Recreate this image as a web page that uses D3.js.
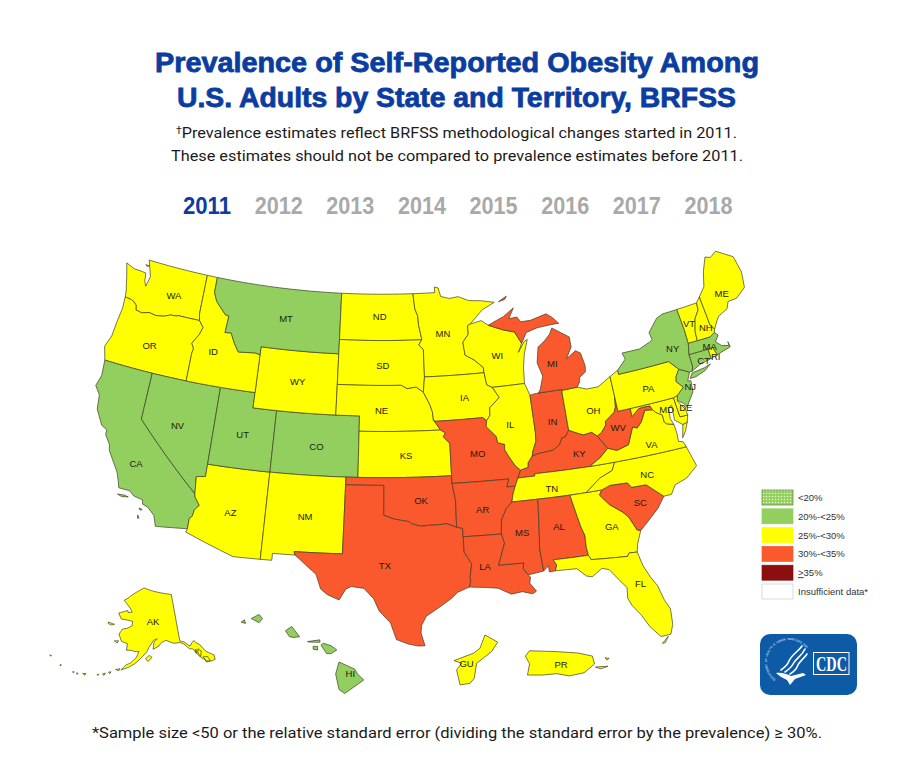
<!DOCTYPE html>
<html>
<head>
<meta charset="utf-8">
<script src="https://cdn.jsdelivr.net/npm/d3@7"></script>
<style>
  body { margin: 0; background: #fff; }
  svg { display: block; }
</style>
</head>
<body>
<svg id="chart" width="913" height="768"></svg>
<script>
// categories and year tabs
var yearLabels = ["2011", "2012", "2013", "2014", "2015", "2016", "2017", "2018"];
var binLabels = ["<20%", "20%-<25%", "25%-<30%", "30%-<35%", "35%", "Insufficient data*"];
var binColors = ["#c5e29a", "#92cf5f", "#ffff00", "#f9592c", "#8b0f0f", "#ffffff"];

// state values for 2011
var bin20to25 = ["MT", "CA", "NV", "UT", "CO", "NY", "NJ", "CT", "MA", "HI"];
var bin25to30 = ["WA", "OR", "ID", "WY", "ND", "SD", "NE", "KS", "MN", "WI", "IA", "IL", "OH", "PA", "AZ", "NM",
  "VT", "NH", "ME", "RI", "DE", "MD", "VA", "NC", "GA", "FL", "TN", "AK", "GU", "PR"];
var bin30to35 = ["MI", "IN", "KY", "WV", "MO", "OK", "AR", "TX", "LA", "MS", "AL", "SC"];

// outlines, lon/lat
var WA = [[[-124.73,48.38],[-123.9,48.17],[-123.1,48.15],[-122.75,48.12],[-122.65,47.6],[-122.45,47.3],[-122.35,47.6],[-122.25,48.0],[-122.5,48.5],[-122.76,49],[-117.03,49],[-117.04,46.42],[-116.92,46],[-118.98,46],[-119,45.95],[-119.6,45.92],[-120.2,45.73],[-120.9,45.65],[-121.5,45.72],[-122.2,45.57],[-122.75,45.65],[-122.85,45.95],[-123.2,46.15],[-123.4,46.2],[-124,46.25],[-124.08,46.7],[-124.2,47],[-124.4,47.6]],
  [[-122.75,48.55],[-122.6,48.65],[-122.95,48.65]]];
var OR = [[[-124,46.25],[-123.95,45.5],[-124.1,44.6],[-124.2,43.6],[-124.55,42.84],[-124.2,42],[-117.03,42],[-117.03,43.83],[-116.95,44.1],[-117.03,44.25],[-117.2,44.45],[-116.7,45.1],[-116.48,45.6],[-116.92,46],[-118.98,46],[-119,45.95],[-119.6,45.92],[-120.2,45.73],[-120.9,45.65],[-121.5,45.72],[-122.2,45.57],[-122.75,45.65],[-122.85,45.95],[-123.2,46.15],[-123.4,46.2]]];
var CA = [[[-124.2,42],[-120,42],[-120,39],[-114.63,35],[-114.57,34.8],[-114.14,34.3],[-114.45,34],[-114.53,33.55],[-114.72,33.4],[-114.72,32.72],[-117.12,32.53],[-117.25,32.85],[-117.4,33.2],[-118,33.65],[-118.4,33.75],[-118.5,34.03],[-119.2,34.15],[-119.6,34.42],[-120.47,34.45],[-120.65,34.9],[-120.9,35.4],[-121.9,36.6],[-122,36.95],[-122.5,37.5],[-122.5,37.8],[-123,38],[-123.7,38.9],[-123.85,39.8],[-124.35,40.3],[-124.1,41]],
  [[-120.45,34.05],[-119.9,34.08],[-119.6,34.02],[-120.1,33.95]],
  [[-118.6,33.48],[-118.35,33.42],[-118.5,33.35]],
  [[-118.6,33.03],[-118.45,32.85],[-118.55,32.82]]];
var NV = [[[-120,42],[-114.04,42],[-114.04,36.2],[-114.75,36.1],[-114.63,35],[-120,39]]];
var AZ = [[[-114.04,37],[-109.05,37],[-109.05,31.33],[-111.07,31.33],[-114.81,32.5],[-114.72,32.72],[-114.72,33.4],[-114.53,33.55],[-114.45,34],[-114.14,34.3],[-114.57,34.8],[-114.63,35],[-114.75,36.1],[-114.04,36.2]]];
var UT = [[[-114.04,42],[-111.05,42],[-111.05,41],[-109.05,41],[-109.05,37],[-114.04,37]]];
var CO = [[[-109.05,41],[-102.05,41],[-102.05,37],[-109.05,37]]];
var NM = [[[-109.05,37],[-103,37],[-103.04,32],[-106.62,32],[-106.53,31.78],[-108.2,31.78],[-108.2,31.33],[-109.05,31.33]]];
var WY = [[[-111.05,45],[-104.05,45],[-104.05,41],[-111.05,41]]];
var ID = [[[-117.03,49],[-116.05,49],[-116.05,48],[-115.7,47.45],[-114.7,46.7],[-114.35,46.65],[-114.45,45.55],[-113.9,45.6],[-113.45,44.95],[-113,44.45],[-111.5,44.55],[-111.05,44.48],[-111.05,42],[-117.03,42],[-117.03,43.83],[-116.95,44.1],[-117.03,44.25],[-117.2,44.45],[-116.7,45.1],[-116.48,45.6],[-116.92,46],[-117.04,46.42]]];
var MT = [[[-116.05,49],[-104.05,49],[-104.05,45],[-111.05,45],[-111.05,44.48],[-111.5,44.55],[-113,44.45],[-113.45,44.95],[-113.9,45.6],[-114.45,45.55],[-114.35,46.65],[-114.7,46.7],[-115.7,47.45],[-116.05,48]]];
var ND = [[[-104.05,49],[-97.23,49],[-97.1,48],[-96.85,47.5],[-96.8,46.9],[-96.56,46],[-96.56,45.94],[-104.05,45.94]]];
var SD = [[[-104.05,45.94],[-96.56,45.94],[-96.85,45.6],[-96.45,45.3],[-96.45,43.5],[-96.6,42.5],[-97.2,42.85],[-98,42.77],[-98.5,43],[-104.05,43]]];
var NE = [[[-104.05,43],[-98.5,43],[-98,42.77],[-97.2,42.85],[-96.6,42.5],[-96.1,41.7],[-95.9,41.2],[-95.85,40.7],[-95.3,40],[-102.05,40],[-102.05,41],[-104.05,41]]];
var KS = [[[-102.05,40],[-95.3,40],[-94.9,39.8],[-95.1,39.55],[-94.6,39.1],[-94.62,37],[-102.05,37]]];
var OK = [[[-103,37],[-94.62,37],[-94.62,36.5],[-94.43,35.4],[-94.48,33.64],[-95.2,33.9],[-96,33.85],[-96.6,33.85],[-97.2,33.8],[-97.9,34],[-98.1,34.13],[-99.2,34.3],[-100,34.56],[-100,36.5],[-103,36.5]]];
var TX = [[[-103,36.5],[-100,36.5],[-100,34.56],[-99.2,34.3],[-98.1,34.13],[-97.9,34],[-97.2,33.8],[-96.6,33.85],[-96,33.85],[-95.2,33.9],[-94.48,33.64],[-94.04,33.55],[-94.04,31.99],[-93.55,31.2],[-93.75,30.3],[-93.7,30.1],[-93.85,29.7],[-94.7,29.4],[-95.2,29],[-96,28.5],[-97,27.9],[-97.35,27.3],[-97.4,26.8],[-97.15,25.96],[-97.6,25.95],[-98.3,26.1],[-99.1,26.4],[-99.5,27.5],[-100.3,28.3],[-100.7,29.1],[-101.4,29.77],[-102.3,29.88],[-102.7,29.7],[-103.15,28.98],[-104,29.3],[-104.5,29.65],[-104.9,30.6],[-106,31.4],[-106.53,31.78],[-106.62,32],[-103.04,32]]];
var MN = [[[-97.23,49],[-95.15,49],[-95.15,49.38],[-94.8,49.3],[-94.6,48.72],[-93.8,48.55],[-92.95,48.62],[-92,48.3],[-90.8,48.2],[-89.6,48],[-90.8,47.6],[-92.05,46.75],[-92.3,46.65],[-92.3,46.1],[-92.85,45.6],[-92.75,44.75],[-92,44.4],[-91.25,43.85],[-91.22,43.5],[-96.45,43.5],[-96.45,45.3],[-96.85,45.6],[-96.56,45.94],[-96.56,46],[-96.8,46.9],[-96.85,47.5],[-97.1,48]]];
var IA = [[[-96.45,43.5],[-91.22,43.5],[-91.1,42.7],[-90.65,42.5],[-90.15,41.8],[-91.05,41.2],[-91.1,40.7],[-91.42,40.38],[-91.73,40.61],[-95.77,40.58],[-95.85,40.7],[-95.9,41.2],[-96.1,41.7],[-96.6,42.5]]];
var MO = [[[-95.77,40.58],[-91.73,40.61],[-91.42,40.38],[-91.5,40],[-90.75,39.3],[-90.7,38.9],[-90.15,38.75],[-90.2,38.4],[-89.9,37.9],[-89.5,37.3],[-89.13,36.98],[-89.42,36.5],[-89.7,36],[-90.37,36],[-90.15,36.5],[-94.62,36.5],[-94.62,37],[-94.6,39.1],[-95.1,39.55],[-94.9,39.8],[-95.3,40],[-95.85,40.7]]];
var AR = [[[-94.62,36.5],[-90.15,36.5],[-90.37,36],[-89.7,36],[-89.95,35.5],[-90.1,35],[-90.6,34.6],[-91.05,33.9],[-91.17,33],[-94.04,33],[-94.04,33.55],[-94.48,33.64],[-94.43,35.4]]];
var LA = [[[-94.04,33],[-91.17,33],[-91,32.4],[-91.6,31],[-89.75,31],[-89.85,30.65],[-89.55,30.2],[-89.4,30.05],[-89.5,29.65],[-89.1,29.1],[-89.4,28.95],[-90.1,29.15],[-90.9,29.05],[-91.8,29.5],[-92.6,29.6],[-93.85,29.7],[-93.7,30.1],[-93.75,30.3],[-93.55,31.2],[-94.04,31.99]]];
var WI = [[[-92.3,46.65],[-92.05,46.75],[-91,46.9],[-90.4,46.55],[-89.1,46.13],[-88.1,45.9],[-87.6,45.1],[-88,44.55],[-87.35,45.2],[-87.05,45.3],[-87.5,44.4],[-87.75,43.5],[-87.85,42.5],[-90.65,42.5],[-91.1,42.7],[-91.22,43.5],[-91.25,43.85],[-92,44.4],[-92.75,44.75],[-92.85,45.6],[-92.3,46.1]]];
var IL = [[[-90.65,42.5],[-87.85,42.5],[-87.53,41.7],[-87.53,39.3],[-87.6,38.7],[-87.95,38.1],[-88.05,37.8],[-88.45,37.4],[-88.5,37.1],[-89.13,36.98],[-89.5,37.3],[-89.9,37.9],[-90.2,38.4],[-90.15,38.75],[-90.7,38.9],[-90.75,39.3],[-91.5,40],[-91.42,40.38],[-91.1,40.7],[-91.05,41.2],[-90.15,41.8]]];
var IN = [[[-87.53,41.7],[-87.2,41.75],[-86.82,41.76],[-84.8,41.76],[-84.81,39.1],[-85.2,38.7],[-85.45,38.7],[-85.75,38.27],[-86.3,38],[-86.85,37.95],[-87.6,37.9],[-88.05,37.8],[-87.95,38.1],[-87.6,38.7],[-87.53,39.3]]];
var OH = [[[-84.8,41.7],[-83.45,41.73],[-82.7,41.5],[-81.7,41.5],[-80.52,41.98],[-80.52,40.64],[-80.65,40],[-80.85,39.7],[-81.7,39.25],[-81.75,39],[-82.2,38.6],[-82.6,38.42],[-83,38.72],[-83.7,38.65],[-84.23,38.85],[-84.81,39.1]]];
var KY = [[[-84.81,39.1],[-84.23,38.85],[-83.7,38.65],[-83,38.72],[-82.6,38.42],[-82,37.55],[-82.7,37.05],[-83.67,36.6],[-88.07,36.65],[-88.07,36.5],[-89.42,36.5],[-89.13,36.98],[-88.5,37.1],[-88.45,37.4],[-88.05,37.8],[-87.6,37.9],[-86.85,37.95],[-86.3,38],[-85.75,38.27],[-85.45,38.7],[-85.2,38.7]]];
var TN = [[[-89.42,36.5],[-88.07,36.5],[-88.07,36.65],[-83.67,36.6],[-81.68,36.59],[-82,36.1],[-83.1,35.75],[-84.32,34.99],[-90.1,35],[-89.95,35.5],[-89.7,36]]];
var MS = [[[-90.1,35],[-88.2,35],[-88.1,34.9],[-88.4,32.3],[-88.47,31.9],[-88.4,30.35],[-89.55,30.2],[-89.85,30.65],[-89.75,31],[-91.6,31],[-91,32.4],[-91.17,33],[-91.05,33.9],[-90.6,34.6]]];
var AL = [[[-88.2,35],[-85.6,34.98],[-85.18,32.87],[-85,32.3],[-85.05,31.55],[-85,31],[-87.6,31],[-87.4,30.65],[-87.55,30.28],[-88,30.25],[-88,30.65],[-88.4,30.35],[-88.47,31.9],[-88.4,32.3],[-88.1,34.9]]];
var GA = [[[-85.6,34.98],[-83.1,35],[-83.35,34.7],[-82.75,34],[-81.9,33.4],[-81.5,33],[-81.1,32.1],[-80.85,32.03],[-81.3,31.2],[-81.45,30.72],[-82.05,30.75],[-82.2,30.55],[-84.86,30.7],[-85,31],[-85.05,31.55],[-85,32.3],[-85.18,32.87]]];
var FL = [[[-87.6,31],[-85,31],[-84.86,30.7],[-82.2,30.55],[-82.05,30.75],[-81.45,30.72],[-81.25,29.8],[-80.9,29],[-80.55,28.4],[-80.3,27.4],[-80.03,26.8],[-80.12,25.8],[-80.4,25.2],[-81.1,25.15],[-81.7,25.9],[-82.1,26.7],[-82.6,27.4],[-82.8,27.9],[-82.7,28.6],[-83.1,29.1],[-83.7,29.9],[-84.2,30.05],[-85,29.6],[-85.4,29.7],[-86,30.25],[-87.55,30.28],[-87.4,30.65]],
  [[-80.6,25.1],[-81.1,24.7],[-80.9,24.72]]];
var SC = [[[-83.1,35],[-82.4,35.2],[-81.05,35.15],[-80.8,34.82],[-79.67,34.8],[-78.55,33.86],[-79.2,33.2],[-79.9,32.7],[-80.45,32.3],[-80.85,32.03],[-81.1,32.1],[-81.5,33],[-81.9,33.4],[-82.75,34],[-83.35,34.7]]];
var NC = [[[-81.68,36.59],[-75.87,36.55],[-75.5,35.25],[-76.5,34.65],[-77.5,34.4],[-77.95,33.87],[-78.55,33.86],[-79.67,34.8],[-80.8,34.82],[-81.05,35.15],[-82.4,35.2],[-83.1,35],[-84.32,34.99],[-83.1,35.75],[-82,36.1]]];
var VA = [[[-83.67,36.6],[-81.68,36.59],[-75.87,36.55],[-76,36.9],[-76.35,37],[-76.3,37.6],[-76.35,38.1],[-76.9,38.25],[-77.05,38.4],[-77.05,38.85],[-77.5,39.1],[-77.72,39.32],[-78.35,39.4],[-78.85,38.75],[-79.3,38.42],[-79.65,38.55],[-80.3,37.5],[-81.3,37.3],[-81.97,37.54],[-82.7,37.05]],
  [[-75.95,37.15],[-75.65,37.95],[-75.25,38.03],[-75.6,37.5]]];
var WV = [[[-82.6,38.42],[-82.2,38.6],[-81.75,39],[-81.7,39.25],[-80.85,39.7],[-80.65,40],[-80.52,40.64],[-80.52,39.72],[-79.48,39.72],[-79.48,39.2],[-78.8,39.6],[-78.4,39.62],[-77.85,39.6],[-77.72,39.32],[-78.35,39.4],[-78.85,38.75],[-79.3,38.42],[-79.65,38.55],[-80.3,37.5],[-81.3,37.3],[-81.97,37.54],[-82,37.55]]];
var MD = [[[-79.48,39.72],[-75.79,39.72],[-75.7,38.46],[-75.05,38.45],[-75.25,38.03],[-75.65,37.95],[-76.2,38.35],[-76.1,39.3],[-76.4,39.2],[-76.5,38.5],[-76.35,38.1],[-76.9,38.25],[-77.05,38.4],[-77.05,38.85],[-77.5,39.1],[-77.72,39.32],[-77.85,39.6],[-78.4,39.62],[-78.8,39.6],[-79.48,39.2]]];
var DE = [[[-75.79,39.72],[-75.41,39.8],[-75.55,39.45],[-75.1,38.8],[-75.05,38.45],[-75.7,38.46]]];
var PA = [[[-80.52,41.98],[-79.76,42.27],[-79.76,42],[-75.35,42],[-74.7,41.36],[-75.1,40.95],[-75.2,40.65],[-74.75,40.2],[-75.41,39.8],[-75.79,39.72],[-80.52,39.72]]];
var NJ = [[[-74.7,41.36],[-73.9,41],[-74.25,40.5],[-74,40.45],[-74.1,39.75],[-74.9,38.95],[-75.1,39.2],[-75.55,39.5],[-75.41,39.8],[-74.75,40.2],[-75.2,40.65],[-75.1,40.95]]];
var NY = [[[-79.76,42.27],[-78.9,42.85],[-79.05,43.27],[-77.5,43.25],[-76.5,43.5],[-76.2,43.6],[-76.3,44.1],[-75.3,44.85],[-74.7,45],[-73.35,45],[-73.25,43.6],[-73.27,42.75],[-73.5,42.05],[-73.5,41.3],[-73.65,41],[-73.9,41],[-74.7,41.36],[-75.35,42],[-79.76,42]],
  [[-74,40.6],[-73.7,40.9],[-72.6,40.98],[-72,41.1],[-72.6,40.8],[-73.5,40.6]]];
var CT = [[[-73.5,42.05],[-71.8,42.02],[-71.8,41.4],[-72.9,41.25],[-73.65,41],[-73.5,41.3]]];
var RI = [[[-71.8,42.02],[-71.38,42.02],[-71.2,41.5],[-71.8,41.4]]];
var MA = [[[-73.27,42.75],[-71.3,42.7],[-70.85,42.88],[-70.6,42.65],[-71,42.3],[-70.6,41.95],[-70,41.8],[-70,42.05],[-69.95,41.7],[-70.6,41.6],[-71.2,41.5],[-71.38,42.02],[-71.8,42.02],[-73.5,42.05]]];
var VT = [[[-73.35,45],[-71.5,45],[-71.55,44.55],[-72.05,44.1],[-72.4,43.3],[-72.46,42.73],[-73.27,42.75],[-73.25,43.6]]];
var NH = [[[-71.5,45],[-71.08,45.3],[-70.98,43.4],[-70.72,43.07],[-70.85,42.88],[-71.3,42.7],[-72.46,42.73],[-72.4,43.3],[-72.05,44.1],[-71.55,44.55]]];
var ME = [[[-71.08,45.3],[-70.4,45.8],[-70,46.7],[-69.4,47.55],[-68.95,47.4],[-68.3,47.65],[-66.95,46.9],[-66.75,45.8],[-67,44.85],[-68,44.4],[-68.8,44.4],[-69.1,44],[-70,43.75],[-70.25,43.55],[-70.72,43.07],[-70.98,43.4]]];
var MI = [[[-86.82,41.76],[-84.8,41.76],[-84.8,41.7],[-83.45,41.73],[-83.15,42.05],[-83.1,42.3],[-82.5,42.6],[-82.42,43],[-82.6,43.85],[-83,44.05],[-83.9,43.65],[-83.3,44.35],[-83.3,45],[-84.7,45.78],[-85,45.4],[-85.6,45],[-86.2,44.7],[-86.5,43.7],[-86.2,42.8],[-86.6,41.95]],
  [[-90.4,46.55],[-89.1,46.13],[-88.1,45.9],[-87.6,45.1],[-87.05,45.75],[-86,45.95],[-84.75,46],[-84,46],[-84.5,46.45],[-85,46.75],[-86.5,46.5],[-87.4,46.5],[-87.7,46.85],[-88.45,46.8],[-87.9,47.47],[-88.9,47],[-89.6,46.8]],
  [[-89.2,48],[-88.4,48.3],[-88.6,48.1]]];
var AK = [[[-141,69.65],[-141,60.3],[-139.5,60],[-137.5,58.9],[-136.5,59.45],[-135.5,59.8],[-135,59.3],[-133.8,58.7],[-132.3,57.1],[-130,55.9],[-130.1,55],[-131.3,54.9],[-133,55.2],[-134.8,56.3],[-136,57.5],[-136.8,58.3],[-137.9,58.4],[-139.7,59.6],[-141,60],[-143.5,60.05],[-144.9,60.4],[-146.5,60.8],[-148.3,60.5],[-149.5,59.8],[-151.8,59.2],[-151.4,60.6],[-150,61.2],[-151.5,61],[-153.5,59.5],[-154.2,58.7],[-156.5,57.3],[-158.5,56.2],[-160.5,55.4],[-163,54.7],[-161.5,55.8],[-160,56.3],[-158,57.5],[-157.2,58.7],[-158.7,58.6],[-160,58.8],[-162,58.7],[-162,60],[-164.5,60.3],[-166,61.6],[-164.9,62.7],[-163,63],[-161,63.6],[-161,64.5],[-163,64.6],[-166.3,64.6],[-168.1,65.65],[-164,66.5],[-163.7,66.1],[-161.7,66.3],[-163,67],[-164.5,67.6],[-166.8,68.35],[-165,68.9],[-163,69.7],[-161,70.3],[-156.6,71.35],[-152,70.8],[-148,70.4],[-144,70]],
  [[-154.6,57.4],[-153.3,58],[-152.2,57.6],[-153.8,56.8]],
  [[-167.3,60.1],[-165.7,60.3],[-166,59.8]],
  [[-171.7,63.4],[-168.8,63.3],[-170,63],[-171.5,63.1]],
  [[-134.8,58],[-133.9,57.4],[-134.6,56.4],[-135.3,57.2]],
  [[-133.8,56.2],[-132.3,56],[-131.8,55],[-133.2,55]],
  [[-136,58],[-135.3,57.8],[-135.9,57.2]],
  [[-164.8,54.6],[-163.4,54.9],[-163.6,54.5]],
  [[-167,53.8],[-166.2,54],[-166.4,53.6]],
  [[-168.8,53.2],[-167.9,53.5],[-168.2,53]],
  [[-170.5,52.9],[-169.9,52.95],[-170.1,52.7]],
  [[-175,52.2],[-174,52.4],[-174.2,52]],
  [[-176.9,51.9],[-176.4,51.95],[-176.6,51.65]],
  [[-178.2,51.9],[-177.7,51.9],[-177.9,51.65]],
  [[-182.8,52.1],[-182.4,52.2],[-182.5,51.9]],
  [[-187.2,52.9],[-186.6,52.95],[-186.7,52.75]]];
var HI = [[[-155.9,20.25],[-155.2,19.95],[-155.08,19.75],[-154.8,19.5],[-155.65,18.93],[-155.9,19.1],[-156.05,19.75]],
  [[-156.7,20.95],[-156.6,21.03],[-156.25,20.93],[-156,20.75],[-156.25,20.6],[-156.45,20.6]],
  [[-157.3,21.1],[-156.75,21.17],[-156.75,21.07],[-157.25,21.08]],
  [[-157.05,20.9],[-156.85,20.9],[-156.85,20.75],[-157.05,20.78]],
  [[-158.28,21.55],[-158,21.72],[-157.65,21.3],[-157.9,21.27],[-158.1,21.3]],
  [[-159.8,22.05],[-159.45,22.22],[-159.3,22.05],[-159.45,21.88]],
  [[-160.25,21.9],[-160.1,22],[-160.05,21.85]]];
var PR = [[[-67.25,18.38],[-67.15,18.5],[-66.5,18.48],[-66,18.45],[-65.65,18.38],[-65.6,18.2],[-65.85,18],[-66.2,17.93],[-66.5,17.98],[-66.85,17.95],[-67.2,17.95],[-67.15,18.2]],
  [[-65.58,18.13],[-65.28,18.15],[-65.45,18.09]],
  [[-65.35,18.34],[-65.25,18.33],[-65.3,18.29]]];
var GU = [[[144.873,13.636],[144.971,13.582],[144.925,13.512],[144.808,13.422],[144.79,13.31],[144.757,13.272],[144.68,13.26],[144.653,13.372],[144.692,13.423],[144.633,13.443],[144.783,13.498],[144.834,13.536]]];

// label anchors lon/lat
var labelLon = {WA:-119.7,OR:-120.8,CA:-119.6,NV:-117,ID:-115.2,MT:-109.1,WY:-107.5,UT:-111.6,AZ:-111.7,CO:-105.5,NM:-106,ND:-100.4,SD:-100.1,NE:-100.2,KS:-98.2,OK:-97.1,TX:-99.9,MN:-94.6,WI:-89.9,IA:-93.1,MO:-92.4,AR:-92.4,LA:-92.6,MS:-89.6,AL:-86.8,TN:-86.9,KY:-84.3,IL:-89.5,IN:-86,MI:-85.2,OH:-82.5,WV:-80.8,VA:-78.5,NC:-79.4,SC:-80.4,GA:-82.9,FL:-81.7,PA:-77.6,NY:-74.7,ME:-69.1,VT:-72.7,NH:-71.4,MA:-71.6,CT:-72.45,RI:-71.4,NJ:-74.2,DE:-75.05,MD:-76.6,AK:-151.6,HI:-155.4,GU:144.73,PR:-66.4};
var labelLat = {WA:47.2,OR:43.7,CA:36.2,NV:39.1,ID:44.2,MT:47.05,WY:43,UT:39.2,AZ:34.1,CO:38.9,NM:34.35,ND:47.5,SD:44.3,NE:41.4,KS:38.4,OK:35.5,TX:31.3,MN:46.3,WI:44.5,IA:42,MO:38.3,AR:34.7,LA:31,MS:33,AL:33.1,TN:35.6,KY:37.5,IL:40,IN:39.8,MI:43.5,OH:40.1,WV:38.7,VA:37.2,NC:35.4,SC:33.8,GA:32.6,FL:28.7,PA:40.7,NY:42.7,ME:45,VT:43.9,NH:43.35,MA:42.15,CT:41.45,RI:41.4,NJ:40.1,DE:38.9,MD:39.1,AK:64.6,HI:19.75,GU:13.42,PR:18.2};

var outlines = {WA,OR,CA,NV,AZ,UT,CO,NM,WY,ID,MT,ND,SD,NE,KS,OK,TX,MN,IA,MO,AR,LA,WI,IL,IN,OH,KY,TN,MS,AL,GA,FL,SC,NC,VA,WV,MD,DE,PA,NJ,NY,CT,RI,MA,VT,NH,ME,MI,AK,HI,PR,GU};

var svg = d3.select("#chart");
var blue = "#0a3d9f";

// main map: Albers, then a small warp so it sits like the source base map
var albers = d3.geoConicEqualArea().parallels([29.5, 45.5]).rotate([96, 0]).center([0, 0]).scale(1).translate([0, 0]);
var rho0 = 1.9284;
function mainProj(lonlat) {
  var p = albers(lonlat), x = p[0], y = p[1] + rho0;
  var bend = x < 0 ? -95 + 330 * (y - 1.09) : -50 + 260 * (y - 1.09);
  return [
    x * (908 + 60 * (y - 1.23)) + 40 * y + 381.7,
    x * (-47 + 34 * (y - 1.09)) + 873 * y - 669 + x * x * bend
  ];
}
var akProj = d3.geoConicEqualArea().parallels([55, 65]).rotate([153, 0]).center([0, 63]).scale(290).translate([150, 630]);
var hiProj = d3.geoMercator().center([-157.5, 20.5]).scale(1290).translate([303, 656]);
var prProj = d3.geoMercator().center([-66.4, 18.2]).scale(2400).translate([561, 664]);
var guProj = d3.geoMercator().center([144.78, 13.44]).scale(7400).translate([473, 661]);
function projFor(code) {
  if (code == "AK") return akProj;
  if (code == "HI") return hiProj;
  if (code == "PR") return prProj;
  if (code == "GU") return guProj;
  return mainProj;
}

// long straight lon/lat edges have to follow the parallels
function densify(ring) {
  var out = [];
  ring.forEach((p, i) => {
    var q = ring[(i + 1) % ring.length];
    var steps = Math.max(Math.ceil(Math.max(Math.abs(q[0] - p[0]), Math.abs(q[1] - p[1]))), 1);
    for (var k = 0; k < steps; k++) {
      out.push([p[0] + (q[0] - p[0]) * k / steps, p[1] + (q[1] - p[1]) * k / steps]);
    }
  });
  return out;
}
var line = d3.line();
function shapePath(code) {
  var proj = projFor(code);
  return outlines[code].map(r => line(densify(r).map(proj)) + "Z").join("");
}
function fillFor(code) {
  if (bin20to25.includes(code)) return binColors[1];
  if (bin25to30.includes(code)) return binColors[2];
  if (bin30to35.includes(code)) return binColors[3];
  return binColors[5];
}

// dotted swatch for the lowest bin
var defs = svg.append("defs");
var pat = defs.append("pattern").attr("id", "dots").attr("width", 3).attr("height", 3).attr("patternUnits", "userSpaceOnUse");
pat.append("rect").attr("width", 3).attr("height", 3).attr("fill", "#92cf5f");
pat.append("circle").attr("cx", 1.5).attr("cy", 1.5).attr("r", 0.8).attr("fill", "#e8f5c8");

// title block
var titleLines = ["Prevalence of Self-Reported Obesity Among", "U.S. Adults by State and Territory, BRFSS"];
var titleX = [155, 177], titleLen = [604, 559], titleY = [72, 107];
svg.selectAll(".title").data(titleLines).enter().append("text")
  .attr("class", "title")
  .attr("x", (d, i) => titleX[i]).attr("y", (d, i) => titleY[i])
  .attr("textLength", (d, i) => titleLen[i]).attr("lengthAdjust", "spacingAndGlyphs")
  .attr("font-family", "Liberation Sans").attr("font-weight", "bold").attr("font-size", 28)
  .attr("fill", blue).attr("stroke", blue).attr("stroke-width", 0.8)
  .text(d => d);

var sub1 = svg.append("text").attr("x", 176).attr("y", 138).attr("textLength", 561).attr("lengthAdjust", "spacingAndGlyphs")
  .attr("font-family", "Roboto").attr("font-size", 15.5).attr("fill", "#1a1a1a");
sub1.append("tspan").attr("dy", -4).attr("font-size", 10).text("\u2020");
sub1.append("tspan").attr("dy", 4).text("Prevalence estimates reflect BRFSS methodological changes started in 2011.");
svg.append("text").attr("x", 171).attr("y", 161).attr("textLength", 572).attr("lengthAdjust", "spacingAndGlyphs")
  .attr("font-family", "Roboto").attr("font-size", 15.5).attr("fill", "#1a1a1a")
  .text("These estimates should not be compared to prevalence estimates before 2011.");

// year tabs
var yearX = d3.scalePoint().domain(yearLabels).range([207, 708.5]);
svg.selectAll(".year").data(yearLabels).enter().append("text")
  .attr("class", "year")
  .attr("x", d => yearX(d) - 24).attr("y", 214)
  .attr("textLength", 48).attr("lengthAdjust", "spacingAndGlyphs")
  .attr("font-family", "Liberation Sans").attr("font-weight", "bold").attr("font-size", 24)
  .attr("fill", (d, i) => i == 0 ? blue : "#a9a9a9")
  .text(d => d);

// states
svg.append("g").selectAll("path").data(Object.keys(outlines)).enter().append("path")
  .attr("d", shapePath)
  .attr("fill", fillFor)
  .attr("stroke", "#3d3d26").attr("stroke-width", 0.7).attr("stroke-linejoin", "round");

// state codes
svg.append("g").selectAll("text").data(Object.keys(labelLon)).enter().append("text")
  .attr("x", d => projFor(d)([labelLon[d], labelLat[d]])[0])
  .attr("y", d => projFor(d)([labelLon[d], labelLat[d]])[1])
  .attr("text-anchor", "middle").attr("dominant-baseline", "central")
  .attr("font-family", "Liberation Sans").attr("font-size", 9.5).attr("fill", "#1c1c10")
  .text(d => d);

// legend
var legendY = d3.scalePoint().domain(binLabels).range([490, 584]);
var legend = svg.append("g").selectAll("g").data(binLabels).enter().append("g");
legend.append("rect")
  .attr("x", 762).attr("y", d => legendY(d)).attr("width", 31).attr("height", 15)
  .attr("fill", (d, i) => i == 0 ? "url(#dots)" : binColors[i])
  .attr("stroke", (d, i) => i == 5 ? "#ccc" : (i == 0 ? "#5b7f3a" : binColors[i])).attr("stroke-width", 0.7);
legend.append("text")
  .attr("x", 798).attr("y", d => legendY(d) + 11)
  .attr("font-family", "Liberation Sans").attr("font-size", 9.5).attr("fill", "#333")
  .text(d => d == "35%" ? "" : d);
// the >=35 label has an underlined > sign
var top35 = legend.filter(d => d == "35%").select("text");
top35.append("tspan").attr("text-decoration", "underline").text(">");
top35.append("tspan").text("35%");

// CDC logo
var logo = svg.append("g");
logo.append("rect").attr("x", 760).attr("y", 634).attr("width", 97).attr("height", 61).attr("rx", 10).attr("fill", "#0d5aa7");
// seal lettering goes round the bird one glyph at a time
var sealText = "DEPARTMENT OF HEALTH & HUMAN SERVICES USA".split("");
var sealAngle = d3.scaleLinear().domain([0, sealText.length - 1]).range([-140, 50]);
logo.append("g").selectAll("text").data(sealText).enter().append("text")
  .attr("transform", (d, i) => "translate(789,662) rotate(" + sealAngle(i) + ") translate(0,-22)")
  .attr("text-anchor", "middle")
  .attr("font-family", "Liberation Sans").attr("font-size", 3).attr("fill", "#dfe9f5")
  .text(d => d);
logo.append("g").attr("fill", "none").attr("stroke", "#fff").attr("stroke-width", 1.6).attr("stroke-linecap", "round")
  .selectAll("path")
  .data(["M802,646 C798,652 792,654 789,661 C787,666 784,668 781,670",
         "M805,649 C802,656 796,658 793,664 C791,668 788,670 785,672",
         "M807,654 C803,660 799,661 797,667 C796,670 793,672 790,674"])
  .enter().append("path").attr("d", d => d);
logo.append("path").attr("fill", "#fff")
  .attr("d", "M776,673 C781,672 787,674 791,676 L803,673 L806,675 L795,679 L790,685 L787,680 C783,678 779,676 776,673Z");
logo.append("rect").attr("x", 813.5).attr("y", 652.5).attr("width", 35.5).attr("height", 22).attr("fill", "none").attr("stroke", "#fff").attr("stroke-width", 1);
logo.append("text").attr("x", 816).attr("y", 670.5).attr("textLength", 31).attr("lengthAdjust", "spacingAndGlyphs")
  .attr("font-family", "Liberation Serif").attr("font-weight", "bold").attr("font-size", 20).attr("fill", "#fff").text("CDC");

// footnote
svg.append("text").attr("x", 92).attr("y", 738).attr("textLength", 730).attr("lengthAdjust", "spacingAndGlyphs")
  .attr("font-family", "Roboto").attr("font-size", 15.5).attr("fill", "#1a1a1a")
  .text("*Sample size <50 or the relative standard error (dividing the standard error by the prevalence) \u2265 30%.");
</script>
</body>
</html>
